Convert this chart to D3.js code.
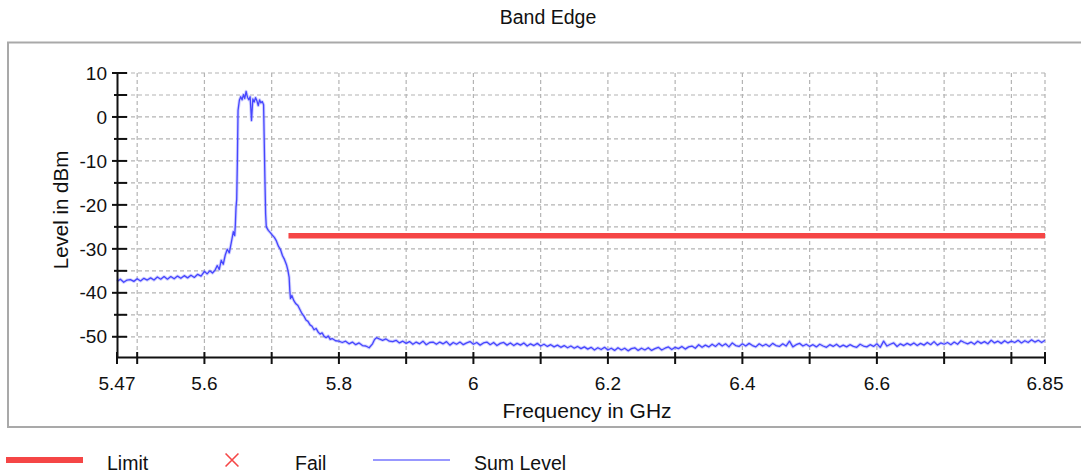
<!DOCTYPE html>
<html>
<head>
<meta charset="utf-8">
<script src="https://cdn.jsdelivr.net/npm/d3@7"></script>
<style>
  html, body { margin: 0; padding: 0; background: #fff; }
  svg { display: block; font-family: "Liberation Sans", Arial, sans-serif; }
</style>
</head>
<body>
<svg id="chart" width="1081" height="474"></svg>
<script>
// ---------------- data ----------------
const title = "Band Edge";
const xTitle = "Frequency in GHz";
const yTitle = "Level in dBm";
const xTickLabels = [5.47, 5.6, 5.8, 6, 6.2, 6.4, 6.6, 6.85];
const xTickMarks = [5.47, 5.5, 5.6, 5.7, 5.8, 5.9, 6.0, 6.1, 6.2, 6.3, 6.4, 6.5, 6.6, 6.7, 6.8, 6.85];
const xGrid = [5.5, 5.6, 5.7, 5.8, 5.9, 6.0, 6.1, 6.2, 6.3, 6.4, 6.5, 6.6, 6.7, 6.8, 6.85];
const yTickLabels = [10, 0, -10, -20, -30, -40, -50];
const yTickMarks = [10, 5, 0, -5, -10, -15, -20, -25, -30, -35, -40, -45, -50];
const xDomain = [5.47, 6.85];
const yDomain = [-54.6, 10];

const limitFreq = [5.725, 6.85];
const limitLevel = [-27, -27];

const legendNames = ["Limit", "Fail", "Sum Level"];

const sumFreq = [
  5.470,5.475,5.480,5.485,5.490,5.495,5.500,5.505,5.510,5.515,
  5.520,5.525,5.530,5.535,5.540,5.545,5.550,5.555,5.560,5.565,
  5.570,5.575,5.580,5.585,5.590,5.595,
  5.600,5.604,5.608,5.612,5.616,5.619,5.622,5.625,5.628,5.631,
  5.634,5.637,5.640,5.643,5.645,5.646,5.647,5.648,5.649,5.650,
  5.652,5.654,5.656,5.658,5.660,5.662,5.664,5.666,5.668,5.670,
  5.672,5.674,5.676,5.678,5.680,5.682,5.684,5.686,5.688,5.689,
  5.690,5.691,5.692,5.695,5.698,5.701,5.704,5.707,5.710,5.713,
  5.716,5.719,5.722,5.724,5.726,5.727,5.728,5.730,5.733,5.736,
  5.739,5.742,5.745,5.748,5.751,5.754,5.757,5.760,5.763,5.766,
  5.769,5.772,5.775,5.778,5.781,5.784,5.787,5.790,5.795,5.800,
  5.805,5.810,5.815,5.820,5.825,5.830,5.835,5.840,5.845,5.850,
  5.853,5.856,5.860,5.865,5.870,5.875,5.880,5.885,5.890,5.895,
  5.900,
  5.905,5.910,5.915,5.920,5.925,5.930,5.935,5.940,5.945,5.950,
  5.955,5.960,5.965,5.970,5.975,5.980,5.985,5.990,5.995,6.000,
  6.005,6.010,6.015,6.020,6.025,6.030,6.035,6.040,6.045,6.050,
  6.055,6.060,6.065,6.070,6.075,6.080,6.085,6.090,6.095,6.100,
  6.105,6.110,6.115,6.120,6.125,6.130,6.135,6.140,6.145,6.150,
  6.155,6.160,6.165,6.170,6.175,6.180,6.185,6.190,6.195,6.200,
  6.205,6.210,6.215,6.220,6.225,6.230,6.235,6.240,6.245,6.250,
  6.255,6.260,6.265,6.270,6.275,6.280,6.285,6.290,6.295,6.300,
  6.305,6.310,6.315,6.320,6.325,6.330,6.335,6.340,6.345,6.350,
  6.355,6.360,6.365,6.370,6.375,6.380,6.385,6.390,6.395,6.400,
  6.405,6.410,6.415,6.420,6.425,6.430,6.435,6.440,6.445,6.450,
  6.455,6.460,6.465,6.470,6.475,6.480,6.485,6.490,6.495,6.500,
  6.505,6.510,6.515,6.520,6.525,6.530,6.535,6.540,6.545,6.550,
  6.555,6.560,6.565,6.570,6.575,6.580,6.585,6.590,6.595,6.600,
  6.605,6.610,6.615,6.620,6.625,6.630,6.635,6.640,6.645,6.650,
  6.655,6.660,6.665,6.670,6.675,6.680,6.685,6.690,6.695,6.700,
  6.705,6.710,6.715,6.720,6.725,6.730,6.735,6.740,6.745,6.750,
  6.755,6.760,6.765,6.770,6.775,6.780,6.785,6.790,6.795,6.800,
  6.805,6.810,6.815,6.820,6.825,6.830,6.835,6.840,6.845,6.850
];
const sumLevel = [
  -37.4,-36.9,-37.6,-37.1,-37.0,-37.4,-36.8,-37.3,-36.7,-37.1,
  -36.6,-37.1,-36.4,-36.9,-36.3,-36.9,-36.3,-36.8,-36.2,-36.7,
  -36.1,-36.6,-36.0,-36.5,-35.8,-36.2,
  -35.1,-35.7,-35.0,-35.5,-34.8,-33.8,-34.7,-32.6,-33.5,-31.4,
  -30.1,-30.9,-28.5,-26.1,-27.0,-24.5,-20.5,-18.8,-10.0,1.5,
  3.8,4.6,3.9,5.1,4.2,5.8,4.5,3.9,4.6,-0.8,
  4.1,3.4,4.4,3.7,2.6,3.9,3.2,3.5,2.8,-6.0,
  -14.5,-22.0,-25.0,-25.8,-26.3,-26.9,-27.4,-28.2,-29.4,-30.1,
  -31.5,-32.4,-33.6,-34.8,-36.5,-39.5,-41.3,-40.6,-41.8,-42.5,
  -42.9,-43.8,-44.7,-45.3,-46.2,-46.5,-47.3,-47.6,-48.4,-48.1,
  -48.9,-49.4,-49.1,-49.9,-50.2,-49.8,-50.6,-50.4,-50.9,-51.0,
  -51.3,-51.0,-51.6,-51.2,-51.8,-51.4,-52.0,-52.1,-52.5,-51.6,
  -50.6,-50.2,-50.5,-50.8,-50.5,-51.0,-51.1,-50.8,-51.4,-51.0,
  -51.5,
  -51.1,-51.7,-51.2,-51.6,-51.0,-51.8,-51.3,-51.2,-51.7,-51.2,
  -51.6,-51.1,-51.9,-51.3,-51.7,-51.2,-51.8,-51.4,-51.1,-51.7,
  -51.3,-51.9,-51.4,-51.2,-51.8,-51.3,-52.0,-51.5,-51.3,-51.9,
  -51.4,-52.0,-51.5,-51.9,-51.4,-52.1,-51.6,-52.0,-51.5,-52.1,
  -51.7,-52.2,-51.8,-52.3,-51.9,-52.4,-52.0,-52.5,-52.1,-52.6,
  -52.2,-52.7,-52.3,-52.8,-52.4,-53.0,-52.5,-52.9,-52.4,-53.0,
  -52.6,-53.1,-52.5,-53.0,-52.6,-53.2,-52.7,-52.5,-53.1,-52.6,
  -53.0,-52.5,-53.1,-52.7,-52.4,-53.0,-52.6,-52.3,-52.9,-52.4,
  -52.7,-52.2,-52.8,-52.3,-52.1,-52.6,-51.8,-52.4,-51.9,-52.3,
  -51.7,-52.2,-51.5,-52.1,-51.6,-52.3,-51.4,-52.0,-52.2,-51.6,
  -52.1,-51.5,-52.0,-52.3,-51.6,-52.1,-51.7,-52.2,-51.5,-52.0,
  -52.2,-51.6,-52.1,-51.0,-52.3,-51.8,-51.5,-52.1,-51.7,-52.2,
  -51.8,-52.3,-51.7,-52.1,-52.4,-51.8,-52.2,-51.7,-52.3,-51.9,
  -52.3,-51.8,-52.2,-52.4,-51.7,-52.1,-52.3,-51.8,-52.2,-51.6,
  -52.4,-51.0,-52.1,-51.7,-51.4,-52.2,-51.6,-52.0,-51.5,-51.9,
  -51.4,-52.0,-51.5,-51.9,-51.3,-51.8,-51.1,-51.9,-51.4,-51.7,
  -51.3,-51.8,-51.2,-51.7,-50.9,-51.3,-51.6,-51.2,-51.7,-51.0,
  -51.5,-51.1,-51.6,-50.8,-51.4,-51.0,-51.5,-50.9,-51.4,-51.0,
  -51.3,-50.8,-51.4,-50.9,-51.3,-50.7,-51.2,-50.8,-51.3,-50.8
];

// ---------------- layout ----------------
const W = 1081, H = 474;
const plot = { left: 117, right: 1045, top: 73, bottom: 357 };
const colors = { limit: "#f54646", trace: "#4646ff", halo: "#9a9aff", grid: "#b4b4b4", frame: "#a9a9a9" };
const fontSize = 19;

const svg = d3.select("#chart");

const x = d3.scaleLinear().domain(xDomain).range([plot.left, plot.right]);
const y = d3.scaleLinear().domain(yDomain).range([plot.bottom, plot.top]);

// outer frame
svg.append("rect")
  .attr("x", 8).attr("y", 42.5)
  .attr("width", W + 10).attr("height", 384.5)
  .attr("fill", "none").attr("stroke", colors.frame).attr("stroke-width", 2);

// title
svg.append("text")
  .attr("x", 548).attr("y", 24)
  .attr("text-anchor", "middle")
  .attr("font-size", 19.5).attr("fill", "#111")
  .text(title);

// grid
const grid = svg.append("g").attr("stroke", colors.grid).attr("stroke-width", 1.2)
  .attr("stroke-dasharray", "4,3").attr("fill", "none");
xGrid.forEach(v => {
  grid.append("line")
    .attr("x1", x(v)).attr("x2", x(v))
    .attr("y1", plot.top).attr("y2", plot.bottom);
});
yTickMarks.forEach(v => {
  grid.append("line")
    .attr("x1", plot.left).attr("x2", plot.right)
    .attr("y1", y(v)).attr("y2", y(v));
});

// limit line
const line = d3.line().x(d => x(d[0])).y(d => y(d[1]));
svg.append("path")
  .datum(limitFreq.map((f, i) => [f, limitLevel[i]]))
  .attr("d", line)
  .attr("fill", "none").attr("stroke", colors.limit).attr("stroke-width", 5.5);

// sum level trace (soft halo + core line)
const sumPts = sumFreq.map((f, i) => [f, sumLevel[i]]);
svg.append("path")
  .datum(sumPts)
  .attr("d", line)
  .attr("fill", "none").attr("stroke", colors.halo).attr("stroke-opacity", 0.45)
  .attr("stroke-width", 3.2).attr("stroke-linejoin", "round");
svg.append("path")
  .datum(sumPts)
  .attr("d", line)
  .attr("fill", "none").attr("stroke", colors.trace).attr("stroke-width", 1.3)
  .attr("stroke-linejoin", "round");

// x axis
const xAxisG = svg.append("g").attr("transform", `translate(0,${plot.bottom})`);
xAxisG.call(d3.axisBottom(x).tickValues(xTickMarks).tickSize(0).tickFormat(""))
  .call(g => g.select(".domain").attr("stroke", "#111").attr("stroke-width", 2));
xAxisG.selectAll(".tick line").remove();
xTickMarks.forEach(v => {
  xAxisG.append("line").attr("x1", x(v)).attr("x2", x(v))
    .attr("y1", -5).attr("y2", 7).attr("stroke", "#111").attr("stroke-width", 2);
});
xTickLabels.forEach(v => {
  xAxisG.append("text").attr("x", x(v)).attr("y", 33)
    .attr("text-anchor", "middle").attr("font-size", fontSize).attr("fill", "#111")
    .text(d3.format("~g")(v));
});

// y axis
const yAxisG = svg.append("g").attr("transform", `translate(${plot.left},0)`);
yAxisG.call(d3.axisLeft(y).tickValues(yTickMarks).tickSize(0).tickFormat(""))
  .call(g => g.select(".domain").attr("stroke", "#111").attr("stroke-width", 2));
yTickMarks.forEach(v => {
  const major = yTickLabels.includes(v);
  yAxisG.append("line").attr("x1", major ? -5 : -3).attr("x2", 10)
    .attr("y1", y(v)).attr("y2", y(v)).attr("stroke", "#111").attr("stroke-width", 2);
});
yTickLabels.forEach(v => {
  yAxisG.append("text").attr("x", -10).attr("y", y(v)).attr("dy", "0.35em")
    .attr("text-anchor", "end").attr("font-size", fontSize).attr("fill", "#111")
    .text(v);
});

// axis titles
svg.append("text")
  .attr("x", 587).attr("y", 418)
  .attr("text-anchor", "middle").attr("font-size", 21).attr("fill", "#111")
  .text(xTitle);
svg.append("text")
  .attr("transform", `translate(68,210) rotate(-90)`)
  .attr("text-anchor", "middle").attr("font-size", 20.5).attr("fill", "#111")
  .text(yTitle);

// legend
const lg = svg.append("g");
lg.append("line").attr("x1", 6).attr("x2", 83).attr("y1", 460).attr("y2", 460)
  .attr("stroke", colors.limit).attr("stroke-width", 6);
lg.append("text").attr("x", 107).attr("y", 470).attr("font-size", 19.5).attr("fill", "#111").text(legendNames[0]);
lg.append("path").attr("d", d3.symbol(d3.symbolX, 110)()).attr("transform", "translate(232,460)")
  .attr("fill", "none").attr("stroke", colors.limit).attr("stroke-width", 1.6);
lg.append("text").attr("x", 295).attr("y", 470).attr("font-size", 19.5).attr("fill", "#111").text(legendNames[1]);
lg.append("line").attr("x1", 373).attr("x2", 450).attr("y1", 460).attr("y2", 460)
  .attr("stroke", "#7676ff").attr("stroke-width", 1.6);
lg.append("text").attr("x", 474).attr("y", 470).attr("font-size", 19.5).attr("fill", "#111").text(legendNames[2]);
</script>
</body>
</html>
